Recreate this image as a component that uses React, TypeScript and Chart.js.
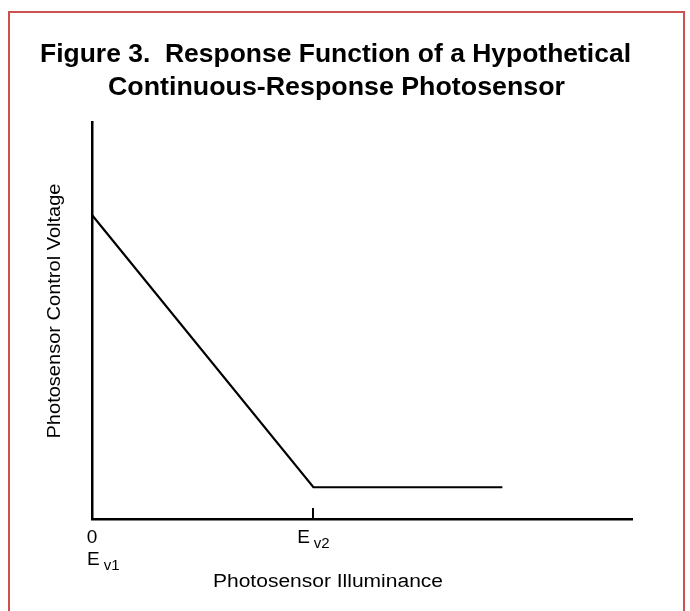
import React, { useEffect, useRef } from "react";
import { Chart, registerables } from "chart.js";

Chart.register(...registerables);

// ---- data ----
const titleLines = [
  "Figure 3.  Response Function of a Hypothetical",
  "Continuous-Response Photosensor",
];
const xAxisTitle = "Photosensor Illuminance";
const yAxisTitle = "Photosensor Control Voltage";

// illuminance (arbitrary units) and control voltage (arbitrary units)
const illuminance = [0, 41, 76];
const controlVoltage = [76.6, 8, 8];

// tick values and labels: [main, subscript]
const tickValues = [0, 41];
const tickLabelLines: [string, string][][] = [
  [["0", ""], ["E", "v1"]],
  [["E", "v2"]],
];

const X_MAX = 100;
const Y_MAX = 100;

const FONT = '"Liberation Sans", Arial, Helvetica, sans-serif';

function fitText(
  ctx: CanvasRenderingContext2D,
  text: string,
  x: number,
  y: number,
  width: number,
  align: "left" | "center"
) {
  const w = ctx.measureText(text).width;
  const s = width / w;
  ctx.save();
  ctx.translate(x, y);
  ctx.scale(s, 1);
  ctx.textAlign = align;
  ctx.fillText(text, 0, 0);
  ctx.restore();
}

const decorPlugin = {
  id: "decor",
  beforeDraw(chart: any) {
    const ctx = chart.ctx as CanvasRenderingContext2D;
    ctx.save();
    ctx.fillStyle = "#ffffff";
    ctx.fillRect(0, 0, chart.width, chart.height);
    ctx.strokeStyle = "#cc5252";
    ctx.lineWidth = 2;
    ctx.strokeRect(9, 12, 675, 700);
    ctx.restore();
  },
  afterDraw(chart: any) {
    const ctx = chart.ctx as CanvasRenderingContext2D;
    const xs = chart.scales.x;
    const area = chart.chartArea;
    ctx.save();
    ctx.fillStyle = "#000";
    ctx.textBaseline = "alphabetic";

    // title
    ctx.font = `bold 26px ${FONT}`;
    fitText(ctx, titleLines[0], 40, 62, 591, "left");
    fitText(ctx, titleLines[1], 108, 95, 457, "left");

    // x axis title
    ctx.font = `18px ${FONT}`;
    fitText(ctx, xAxisTitle, 213, 587, 230, "left");

    // y axis title
    ctx.save();
    ctx.translate(60, 311);
    ctx.rotate(-Math.PI / 2);
    ctx.font = `18px ${FONT}`;
    fitText(ctx, yAxisTitle, 0, 0, 255, "center");
    ctx.restore();

    // ticks & labels
    tickValues.forEach((v, i) => {
      const px = xs.getPixelForValue(v);
      if (i > 0) {
        ctx.save();
        ctx.strokeStyle = "#000";
        ctx.lineWidth = 2;
        ctx.beginPath();
        ctx.moveTo(Math.round(px), area.bottom);
        ctx.lineTo(Math.round(px), area.bottom - 11);
        ctx.stroke();
        ctx.restore();
      }
      const lines = tickLabelLines[i];
      lines.forEach((ln, j) => {
        const [main, sub] = ln;
        ctx.font = `19px ${FONT}`;
        const mw = ctx.measureText(main).width;
        ctx.font = `15px ${FONT}`;
        const sw = sub ? ctx.measureText(sub).width : 0;
        const gap = sub ? 4 : 0;
        const total = mw + gap + sw;
        let left: number;
        if (i === 0) left = j === 0 ? px - mw / 2 : px - 5;
        else left = px - total / 2;
        const base = area.bottom + 24 + j * 22;
        ctx.font = `19px ${FONT}`;
        ctx.textAlign = "left";
        ctx.fillText(main, left, base);
        if (sub) {
          ctx.font = `15px ${FONT}`;
          ctx.fillText(sub, left + mw + gap, base + 5);
        }
      });
    });
    ctx.restore();
  },
};

export default function App() {
  const ref = useRef<HTMLCanvasElement>(null);
  useEffect(() => {
    if (!ref.current) return;
    const chart = new Chart(ref.current, {
      type: "line",
      data: {
        datasets: [
          {
            data: illuminance.map((x, i) => ({ x, y: controlVoltage[i] })),
            borderColor: "#000",
            borderWidth: 2.2,
            pointRadius: 0,
            tension: 0,
            fill: false,
          },
        ],
      },
      options: {
        animation: false,
        responsive: true,
        maintainAspectRatio: false,
        layout: { padding: { left: 92, right: 58, top: 122, bottom: 92 } },
        plugins: {
          legend: { display: false },
          tooltip: { enabled: false },
          title: { display: false },
        },
        scales: {
          x: {
            type: "linear",
            min: 0,
            max: X_MAX,
            grid: { display: false, drawTicks: false },
            ticks: { display: false },
            border: { display: true, color: "#000", width: 2.5 },
          },
          y: {
            type: "linear",
            min: 0,
            max: Y_MAX,
            grid: { display: false, drawTicks: false },
            ticks: { display: false },
            border: { display: true, color: "#000", width: 2.5 },
          },
        },
      },
      plugins: [decorPlugin],
    });
    return () => chart.destroy();
  }, []);
  return (
    <div style={{ position: "absolute", left: 0, top: 0, width: 690, height: 611 }}>
      <canvas ref={ref} />
    </div>
  );
}
